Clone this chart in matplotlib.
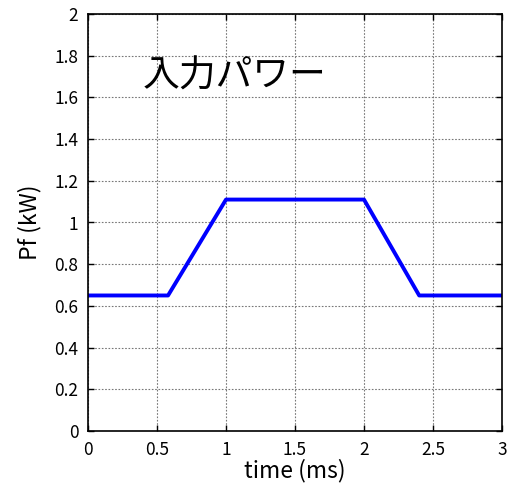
import matplotlib
matplotlib.use('Agg')
import matplotlib.pyplot as plt

plt.rcParams['font.family'] = ['Noto Sans CJK JP', 'DejaVu Sans']

# power profile (time in ms, power in kW)
time_ms = [0.0, 0.58, 1.0, 2.0, 2.4, 3.0]
power_kw = [0.65, 0.65, 1.11, 1.11, 0.65, 0.65]

xticks = [0, 0.5, 1, 1.5, 2, 2.5, 3]
xticklabels = ['0', '0.5', '1', '1.5', '2', '2.5', '3']
yticks = [0, 0.2, 0.4, 0.6, 0.8, 1.0, 1.2, 1.4, 1.6, 1.8, 2.0]
yticklabels = ['0', '0.2', '0.4', '0.6', '0.8', '1', '1.2', '1.4', '1.6', '1.8', '2']

fig = plt.figure(figsize=(5.3, 4.9), dpi=100)
ax = fig.add_axes([88/530, 1 - 431/490, (502-88)/530, (431-14)/490])

ax.plot(time_ms, power_kw, color='#0000ff', linewidth=2.8)

ax.set_xlim(0, 3)
ax.set_ylim(0, 2)
ax.set_xticks(xticks)
ax.set_xticklabels(xticklabels)
ax.set_yticks(yticks)
ax.set_yticklabels(yticklabels)
ax.tick_params(direction='in', length=4, width=1, top=True, right=True, labelsize=12.5)
ax.tick_params(axis='x', pad=7)
ax.tick_params(axis='y', pad=7)
ax.grid(True, linestyle=(0, (1.5, 1.5)), color='#777777', linewidth=0.8)
for s in ax.spines.values():
    s.set_linewidth(1.2)

ax.set_xlabel('time (ms)', fontsize=16.5, labelpad=0)
ax.set_ylabel('Pf (kW)', fontsize=16.5, labelpad=9)
ax.text(1.06, 1.70, '入力パワー', fontsize=26.5, ha='center', va='center')

fig.savefig('out.png', dpi=100)
